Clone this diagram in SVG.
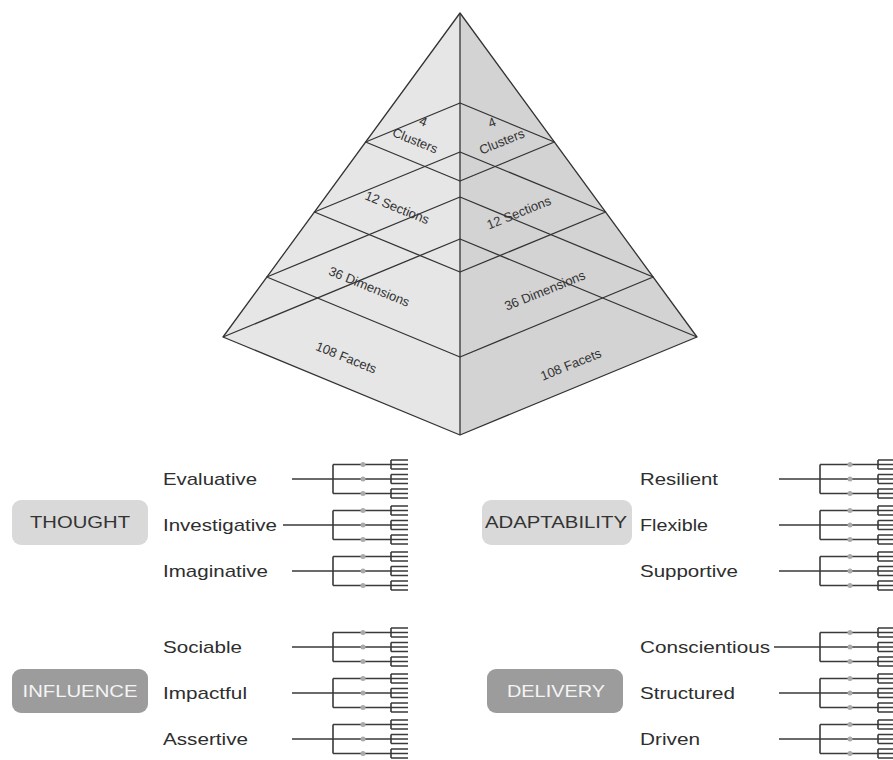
<svg xmlns="http://www.w3.org/2000/svg" xmlns:xlink="http://www.w3.org/1999/xlink" width="893" height="760" viewBox="0 0 893 760">
  <style>
    .edge { fill: none; stroke: #333; stroke-width: 1.3; stroke-linejoin: round; }
    .pl { font-family: "Liberation Sans", Arial, sans-serif; font-size: 13px; fill: #333; text-anchor: middle; }
    .lbl { font-family: "Liberation Sans", Arial, sans-serif; font-size: 17px; fill: #2e2e2e; }
    .boxt { font-family: "Liberation Sans", Arial, sans-serif; font-size: 17px; text-anchor: middle; }
    .light { fill: #d9d9d9; }
    .dark { fill: #9c9c9c; }
    .conn { fill: none; stroke: #3a3a3a; stroke-width: 1.5; }
    .tree { fill: none; stroke: #3a3a3a; stroke-width: 1.6; }
    .dot { fill: #aaa; stroke: none; }
  </style>
  <defs>
    <g id="tree">
      <path class="tree" d="M0 -14.5 V14.5 M0 -14.5 H58 M0 0 H58 M0 14.5 H58
        M58 -19 V-10 M58 -19 H75 M58 -14.5 H75 M58 -10 H75
        M58 -4.5 V4.5 M58 -4.5 H75 M58 0 H75 M58 4.5 H75
        M58 10 V19 M58 10 H75 M58 14.5 H75 M58 19 H75"/>
      <circle class="dot" cx="30" cy="-14.5" r="2.5"/>
      <circle class="dot" cx="30" cy="0" r="2.5"/>
      <circle class="dot" cx="30" cy="14.5" r="2.5"/>
    </g>
  </defs>

  <g id="pyramid">
    <polygon points="460,13 223,337 460,435" fill="#e6e6e6"/>
    <polygon points="460,13 697,337 460,435" fill="#d3d3d3"/>
    <polygon class="edge" points="460,103 365.6,142 460,181 554.4,142"/>
    <polygon class="edge" points="460,152 314.4,212 460,272 605.6,212"/>
    <polygon class="edge" points="460,197 266.8,277 460,357 653.2,277"/>
    <polyline class="edge" points="223,337 460,239 697,337"/>
    <polygon class="edge" points="460,13 223,337 460,435 697,337"/>
    <line class="edge" x1="460" y1="13" x2="460" y2="435" stroke="#555"/>
    <text class="pl" transform="translate(423,122) rotate(22)" y="4">4</text>
    <text class="pl" transform="translate(415,141) rotate(22)" y="4">Clusters</text>
    <text class="pl" transform="translate(492,123) rotate(-22)" y="4">4</text>
    <text class="pl" transform="translate(502,142) rotate(-22)" y="4">Clusters</text>
    <text class="pl" transform="translate(397,208) rotate(22)" y="4">12 Sections</text>
    <text class="pl" transform="translate(519,213) rotate(-22)" y="4">12 Sections</text>
    <text class="pl" transform="translate(369,287) rotate(22)" y="4">36 Dimensions</text>
    <text class="pl" transform="translate(545,291) rotate(-22)" y="4">36 Dimensions</text>
    <text class="pl" transform="translate(346,358) rotate(22)" y="4">108 Facets</text>
    <text class="pl" transform="translate(571,365) rotate(-22)" y="4">108 Facets</text>
  </g>

  <g id="thought">
    <rect class="light" x="12" y="500" width="136" height="45" rx="9"/>
    <text class="boxt" x="80" y="528" fill="#333" textLength="100" lengthAdjust="spacingAndGlyphs">THOUGHT</text>
  </g>
  <g id="influence">
    <rect class="dark" x="12" y="669" width="136" height="44" rx="9"/>
    <text class="boxt" x="80" y="697" fill="#f4f4f4" textLength="115" lengthAdjust="spacingAndGlyphs">INFLUENCE</text>
  </g>
  <g id="adaptability">
    <rect class="light" x="482" y="500" width="150" height="45" rx="9"/>
    <text class="boxt" x="556" y="528" fill="#333" textLength="142" lengthAdjust="spacingAndGlyphs">ADAPTABILITY</text>
  </g>
  <g id="delivery">
    <rect class="dark" x="487" y="669" width="136" height="44" rx="9"/>
    <text class="boxt" x="556" y="697" fill="#f4f4f4" textLength="98" lengthAdjust="spacingAndGlyphs">DELIVERY</text>
  </g>

  <g id="evaluative"><text class="lbl" x="163" y="485" textLength="94" lengthAdjust="spacingAndGlyphs">Evaluative</text><use xlink:href="#tree" href="#tree" transform="translate(333,479)"/></g>
  <g id="investigative"><text class="lbl" x="163" y="531" textLength="114" lengthAdjust="spacingAndGlyphs">Investigative</text><use xlink:href="#tree" href="#tree" transform="translate(333,525)"/></g>
  <g id="imaginative"><text class="lbl" x="163" y="577" textLength="105" lengthAdjust="spacingAndGlyphs">Imaginative</text><use xlink:href="#tree" href="#tree" transform="translate(333,571)"/></g>
  <g id="sociable"><text class="lbl" x="163" y="653" textLength="79" lengthAdjust="spacingAndGlyphs">Sociable</text><use xlink:href="#tree" href="#tree" transform="translate(333,647)"/></g>
  <g id="impactful"><text class="lbl" x="163" y="699" textLength="84" lengthAdjust="spacingAndGlyphs">Impactful</text><use xlink:href="#tree" href="#tree" transform="translate(333,693)"/></g>
  <g id="assertive"><text class="lbl" x="163" y="745" textLength="85" lengthAdjust="spacingAndGlyphs">Assertive</text><use xlink:href="#tree" href="#tree" transform="translate(333,739)"/></g>

  <g id="resilient"><text class="lbl" x="640" y="485" textLength="78" lengthAdjust="spacingAndGlyphs">Resilient</text><use xlink:href="#tree" href="#tree" transform="translate(820,479)"/></g>
  <g id="flexible"><text class="lbl" x="640" y="531" textLength="68" lengthAdjust="spacingAndGlyphs">Flexible</text><use xlink:href="#tree" href="#tree" transform="translate(820,525)"/></g>
  <g id="supportive"><text class="lbl" x="640" y="577" textLength="98" lengthAdjust="spacingAndGlyphs">Supportive</text><use xlink:href="#tree" href="#tree" transform="translate(820,571)"/></g>
  <g id="conscientious"><text class="lbl" x="640" y="653" textLength="130" lengthAdjust="spacingAndGlyphs">Conscientious</text><use xlink:href="#tree" href="#tree" transform="translate(820,647)"/></g>
  <g id="structured"><text class="lbl" x="640" y="699" textLength="95" lengthAdjust="spacingAndGlyphs">Structured</text><use xlink:href="#tree" href="#tree" transform="translate(820,693)"/></g>
  <g id="driven"><text class="lbl" x="640" y="745" textLength="60" lengthAdjust="spacingAndGlyphs">Driven</text><use xlink:href="#tree" href="#tree" transform="translate(820,739)"/></g>

  <g id="connectors">
    <path class="conn" d="M292 479 H333 M283 525 H333 M292 571 H333 M292 647 H333 M292 693 H333 M292 739 H333
      M779 479 H820 M779 525 H820 M779 571 H820 M774 647 H820 M779 693 H820 M779 739 H820"/>
  </g>
</svg>
